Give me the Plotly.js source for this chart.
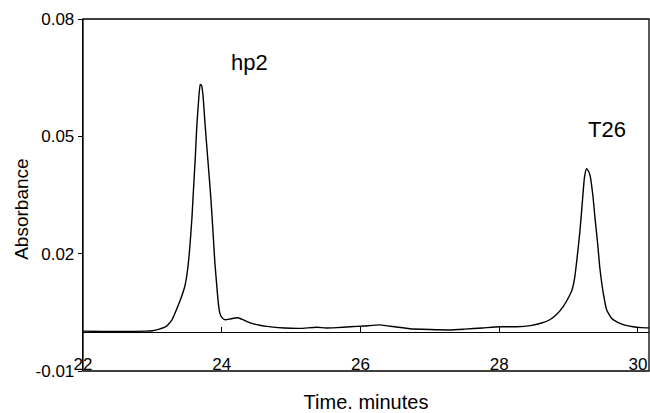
<!DOCTYPE html>
<html>
<head>
<meta charset="utf-8">
<script src="https://cdn.plot.ly/plotly-3.0.1.min.js"></script>
<style>html,body{margin:0;padding:0;background:#fff;}#chart{width:650px;height:413px;}</style>
</head>
<body>
<div id="chart"></div>
<script>
const timeMin = [22.0,22.3,22.6,22.9,23.0,23.1,23.2,23.28,23.35,23.42,23.47,23.51,23.54,23.57,23.59,23.62,23.64,23.67,23.69,23.71,23.73,23.76,23.80,23.84,23.87,23.90,23.93,23.95,23.97,24.00,24.05,24.12,24.23,24.32,24.41,24.55,24.65,24.9,25.13,25.37,25.5,25.66,25.85,26.05,26.28,26.5,26.71,27.0,27.29,27.5,27.76,28.0,28.25,28.45,28.6,28.73,28.83,28.92,29.0,29.05,29.09,29.12,29.16,29.19,29.23,29.26,29.29,29.31,29.35,29.38,29.42,29.45,29.50,29.55,29.62,29.69,29.8,29.93,30.05,30.2];
const absorbance = [0.0002,0.0001,0.0001,0.0002,0.0003,0.0007,0.0014,0.0030,0.0058,0.0090,0.0118,0.0162,0.0217,0.0290,0.0355,0.0450,0.0524,0.0600,0.0633,0.0630,0.0605,0.0530,0.0440,0.0350,0.0268,0.0180,0.0115,0.0075,0.0050,0.0037,0.0031,0.0033,0.0036,0.0030,0.0023,0.0017,0.0014,0.0010,0.0009,0.0012,0.0010,0.0011,0.0013,0.0015,0.0018,0.0013,0.0008,0.0006,0.0005,0.0007,0.0010,0.0013,0.0013,0.0016,0.0022,0.0031,0.0045,0.0064,0.0088,0.0107,0.0140,0.0184,0.0250,0.0312,0.0396,0.0417,0.0410,0.0400,0.0350,0.0294,0.0225,0.0166,0.0100,0.0056,0.0035,0.0026,0.0018,0.0013,0.0011,0.0010];
const xTicks = [22,24,26,28,30];
const yTicks = [-0.01,0.02,0.05,0.08];
const yTickLabels = ['-0.01','0.02','0.05','0.08'];
const peakLabels = ['hp2','T26'];
const peakLabelX = [24.40,29.55];
const peakLabelY = [0.0688,0.0517];
const xTitle = 'Time. minutes';
const yTitle = 'Absorbance';

const yMin = -0.01, yMax = 0.08;
const font = 'Arial, "Liberation Sans", sans-serif';

const trace = {
  x: timeMin, y: absorbance, type: 'scatter', mode: 'lines',
  line: {color: '#000', width: 1.4, shape: 'spline', smoothing: 0.4},
  hoverinfo: 'skip'
};

const annotations = peakLabels.map((t, i) => ({
  x: peakLabelX[i], y: peakLabelY[i], xref: 'x', yref: 'y', text: t,
  showarrow: false, font: {family: font, size: 22, color: '#000'}
}));
annotations.push({
  x: -0.11, y: 0.46, xref: 'paper', yref: 'paper', xanchor: 'center', yanchor: 'middle',
  text: yTitle, textangle: -90, showarrow: false,
  font: {family: font, size: 19, color: '#000'}
});

const layout = {
  width: 650, height: 413,
  margin: {l: 83, r: 1, t: 19, b: 42},
  paper_bgcolor: '#fff', plot_bgcolor: '#fff',
  showlegend: false,
  font: {family: font, color: '#000', size: 17},
  xaxis: {
    range: [22, 30.16], tickvals: xTicks, ticktext: xTicks.map(String),
    anchor: 'free', position: (0 - yMin) / (yMax - yMin),
    showline: true, linecolor: '#000', linewidth: 1.3,
    ticks: 'inside', ticklen: 5, tickcolor: '#000', tickwidth: 1,
    showgrid: false, zeroline: false,
    tickfont: {family: font, size: 17, color: '#000'},
    ticklabelstandoff: 16,
    title: {text: xTitle, font: {family: font, size: 20, color: '#000'}, standoff: 22}
  },
  yaxis: {
    range: [yMin, yMax], tickvals: yTicks, ticktext: yTickLabels,
    showline: true, linecolor: '#000', linewidth: 1.3,
    ticks: 'outside', ticklen: 4, tickcolor: '#000', tickwidth: 1,
    showgrid: false, zeroline: false,
    tickfont: {family: font, size: 17, color: '#000'}
  },
  shapes: [{type: 'rect', xref: 'paper', yref: 'paper', x0: 0, x1: 1, y0: 0, y1: 1,
            line: {color: '#000', width: 1.3}}],
  annotations: annotations
};

Plotly.newPlot('chart', [trace], layout, {displayModeBar: false, staticPlot: true});
</script>
</body>
</html>
